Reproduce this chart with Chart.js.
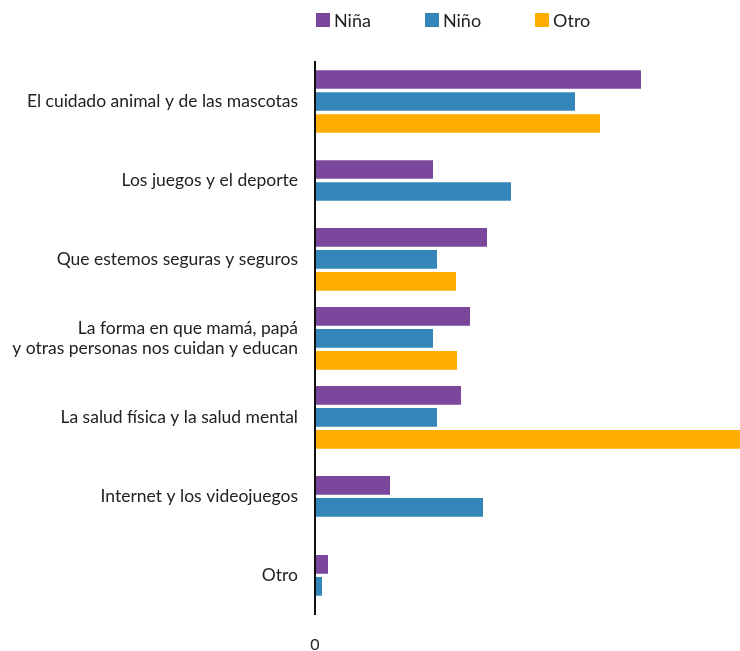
<!DOCTYPE html>
<html>
<head>
<meta charset="utf-8">
<script src="https://cdn.jsdelivr.net/npm/chart.js@4/dist/chart.umd.min.js"></script>
<style>
  html, body { margin: 0; padding: 0; background: #fff; }
  #wrap { position: relative; width: 740px; height: 651px; }
  #legend { position: absolute; top: 9px; left: 316px; display: flex; font-family: Lato, sans-serif; font-size: 18px; color: #222; }
  #legend span.item { display: flex; align-items: center; margin-right: 54px; }
  #legend span.box { width: 14px; height: 14px; margin-right: 4px; display: inline-block; }
  canvas { display: block; }
</style>
</head>
<body>
<div id="wrap">
  <div id="legend"></div>
  <canvas id="chart" width="740" height="651"></canvas>
</div>
<script>
// Categories and series values
const categories = [
  'El cuidado animal y de las mascotas',
  'Los juegos y el deporte',
  'Que estemos seguras y seguros',
  ['La forma en que mamá, papá', 'y otras personas nos cuidan y educan'],
  'La salud física y la salud mental',
  'Internet y los videojuegos',
  'Otro'
];
const ninaValues = [32.6, 11.8, 17.2, 15.5, 14.6, 7.5, 1.3];
const ninoValues = [26.0, 19.6, 12.2, 11.8, 12.2, 16.8, 0.7];
const otroValues = [28.5, null, 14.1, 14.2, 45.0, null, null];

const seriesNames = ['Niña', 'Niño', 'Otro'];
const seriesColors = ['#7b479c', '#3586b8', '#fdae00'];

// HTML legend
const legendEl = document.getElementById('legend');
seriesNames.forEach((name, i) => {
  const item = document.createElement('span');
  item.className = 'item';
  const box = document.createElement('span');
  box.className = 'box';
  box.style.background = seriesColors[i];
  item.appendChild(box);
  item.appendChild(document.createTextNode(name));
  legendEl.appendChild(item);
});

const makeSet = (label, data, color) => ({
  label: label,
  data: data,
  backgroundColor: color,
  borderColor: '#ffffff',
  borderWidth: { top: 2, bottom: 2, left: 0, right: 0 },
  borderSkipped: false,
  barThickness: 22,
});

new Chart(document.getElementById('chart'), {
  type: 'bar',
  data: {
    labels: categories,
    datasets: [
      makeSet(seriesNames[0], ninaValues, seriesColors[0]),
      makeSet(seriesNames[1], ninoValues, seriesColors[1]),
      makeSet(seriesNames[2], otroValues, seriesColors[2]),
    ],
  },
  options: {
    indexAxis: 'y',
    responsive: false,
    animation: false,
    skipNull: true,
    layout: { padding: { top: 62, right: 0, left: 0, bottom: -3 } },
    plugins: {
      legend: { display: false },
      tooltip: { enabled: false },
    },
    scales: {
      x: {
        min: 0,
        max: 42.5,
        grid: { display: false, drawTicks: true, tickLength: 20 },
        border: { display: false },
        ticks: {
          padding: 0,
          autoSkip: false,
          maxRotation: 0,
          color: '#222',
          font: { family: 'Lato', size: 16 },
          callback: (v) => (v === 0 ? '0' : ''),
        },
      },
      y: {
        grid: { display: false, drawTicks: false },
        border: { display: true, color: '#111', width: 2, z: 1 },
        afterFit: (scale) => { scale.width = 315; },
        ticks: {
          padding: 17,
          color: '#222',
          font: { family: 'Lato', size: 17.5, lineHeight: 1.15 },
        },
      },
    },
  },
});
</script>
</body>
</html>
